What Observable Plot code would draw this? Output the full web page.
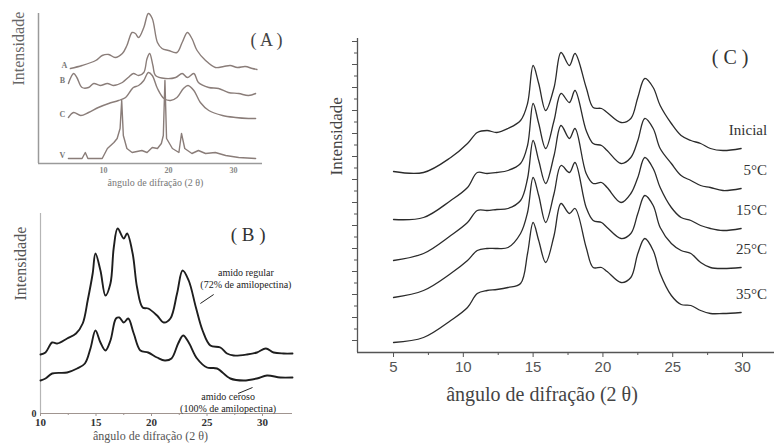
<!DOCTYPE html>
<html><head><meta charset="utf-8">
<script src="https://cdn.jsdelivr.net/npm/d3@7"></script>
<script src="https://cdn.jsdelivr.net/npm/@observablehq/plot@0.6"></script>
<style>
body{margin:0;background:#fff;}
#wrap{position:relative;width:774px;height:447px;overflow:hidden;background:#fff;}
#wrap svg{position:absolute;}
</style></head><body><div id="wrap"></div>
<script>
// ================= DATA =================
// Panel A : four patterns (A, B, C, V) — 2θ and relative intensity
const thetaA_A = [4.9,6.7,8.8,9.8,10.8,11.8,12.9,13.6,14.4,14.9,15.4,16.2,16.9,17.5,18.3,19.0,20.0,21.3,22.1,22.9,23.6,24.4,25.7,27.2,28.5,29.5,30.6,31.8,32.9,33.6];
const intA_A   = [95,98,103,108,109,106,110,118,131,130,126,136,150,145,121,115,113,111,121,131,125,113,103,96,97,98,96,97,95,94];
const thetaA_B = [4.6,5.4,5.9,6.7,7.7,8.5,9.5,10.6,11.5,12.9,13.8,14.6,15.4,16.2,16.7,17.1,17.6,18.0,19.5,21.1,22.1,22.9,23.9,24.6,26.2,27.7,29.2,30.8,32.3,33.4];
const intA_B   = [80,90,86,76,76,80,78,80,78,81,86,90,88,91,105,110,98,88,85,86,90,86,90,81,76,75,71,70,68,70];
const thetaA_C = [4.6,5.4,6.5,7.7,9.2,10.8,12.3,13.4,14.2,14.6,15.4,16.2,16.9,17.5,18.3,19.3,20.3,21.3,22.3,23.0,23.9,24.9,26.2,28.3,30.3,32.3,33.4];
const intA_C   = [46,51,48,51,56,60,63,66,73,76,78,83,91,88,75,65,63,66,75,78,73,61,53,48,46,45,45];
const thetaA_V = [4.6,6.7,7.2,7.6,9.8,10.6,11.6,12.1,12.55,12.8,13.05,13.6,14.4,15.9,16.7,17.5,18.3,18.9,19.2,19.45,19.7,20.6,21.6,22.0,22.5,23.6,24.6,25.7,27.2,28.8,30.8,33.4];
const intA_V   = [5,5,11,5,5,15,21,25,35,63,28,15,11,13,11,16,15,20,28,83,25,15,11,30,15,10,13,10,11,8,6,5];
const namesA   = ["A","B","C","V"];
const ticksA   = [10,20,30];

// Panel B : regular vs waxy starch
const thetaB_reg = [10.0,10.45,11.05,11.5,12.4,13.2,13.8,14.25,14.7,14.95,15.4,15.85,16.3,16.6,16.95,17.5,17.8,18.3,18.7,19.2,19.7,20.5,21.1,21.7,22.3,22.8,23.35,24.0,24.6,25.3,26.2,26.8,27.4,28.6,29.5,30.3,31.0,31.9,32.7];
const intB_reg   = [59,61,71,70,75,80,90,113,140,160,143,118,130,166,185,175,180,160,126,106,105,98,91,95,120,143,133,106,83,68,66,60,58,59,61,65,61,60,60];
const thetaB_cer = [10.0,10.45,11.05,12.4,13.3,14.0,14.5,14.95,15.4,15.85,16.3,16.8,17.1,17.5,17.9,18.4,19.0,19.7,20.5,21.2,21.8,22.4,22.85,23.35,24.1,25.0,25.9,27.1,28.3,29.5,30.4,31.6,32.7];
const intB_cer   = [33,35,40,41,45,50,65,83,71,63,73,95,96,91,95,80,63,61,56,53,55,70,78,71,55,46,45,35,33,35,38,36,36];
const ticksB     = [10,15,20,25,30];
const minorB     = [12.5,17.5,22.5,27.5];
const notesB = [
  {text:"amido regular\n(72% de amilopectina)", t:28.5, v:135, t1:25.6, v1:119, t2:24.4, v2:110},
  {text:"amido ceroso\n(100% de amilopectina)", t:26.9, v:11, t1:27.8, v1:20, t2:29.1, v2:26}
];

// Panel C : storage temperatures
const thetaC = [5.0,7.15,9.1,10.3,11.0,11.7,12.4,13.2,14.1,14.6,15.0,15.4,15.9,16.5,17.0,17.6,18.0,18.8,19.3,19.9,20.3,21.3,22.0,22.5,23.0,23.6,24.1,24.9,25.6,26.3,27.0,27.7,28.6,29.9];
const intC_inicial = [181,180,195,209,220,222,220,224,232,249,287,269,242,265,300,287,299,265,245,244,240,230,234,255,274,265,247,229,217,212,209,204,202,204];
const intC_5  = [133,135,152,165,180,179,180,182,189,207,249,229,204,232,259,250,262,222,209,207,202,189,195,212,234,224,204,189,177,172,167,165,162,164];
const intC_15 = [92,99,117,130,142,142,143,144,152,174,212,192,169,197,227,214,224,179,169,170,165,150,159,175,195,184,165,145,135,132,127,124,122,124];
const intC_25 = [55,62,79,92,102,104,104,105,119,140,175,157,130,159,187,180,190,145,132,130,125,114,119,139,157,147,125,109,102,99,90,85,84,85];
const intC_35 = [10,15,32,45,59,62,63,65,69,99,130,112,90,117,149,139,144,105,85,85,81,70,75,99,114,102,79,57,48,47,42,39,39,40];
const namesC  = ["Inicial","5°C","15°C","25°C","35°C"];
const ticksC  = [5,10,15,20,25,30];
const minorC  = [7.5,12.5,17.5,22.5,27.5];
const yTicksC = [12,35,58,81,104,127,150,173,196,219,242,265,288,311];
const yMinorC = [23.5,46.5,69.5,92.5,115.5,138.5,161.5,184.5,207.5,230.5,253.5,276.5,299.5];

// ================= BUILD =================
const serif = "'Liberation Serif','DejaVu Serif',serif";
const sans = "'Liberation Sans',Arial,sans-serif";
const wrap = document.getElementById("wrap");
function place(svg, left, top){ svg.style.left = left+"px"; svg.style.top = top+"px"; wrap.appendChild(svg); }

// ---- Panel A ----
const rowsA = [];
[[thetaA_A,intA_A],[thetaA_B,intA_B],[thetaA_C,intA_C],[thetaA_V,intA_V]].forEach(([t,v],i)=>{
  t.forEach((x,j)=>rowsA.push({s:namesA[i], t:x, v:v[j]}));
});
const firstA = namesA.map(n => rowsA.find(r=>r.s===n));
const colA = "#8a7d79";
const plotA = Plot.plot({
  width: 300, height: 195,
  marginLeft: 38, marginRight: 38, marginTop: 13, marginBottom: 32,
  x: {domain: [0, 34.46], axis: null}, y: {domain: [0, 150], axis: null},
  style: {fontFamily: serif, background: "transparent", overflow: "visible"},
  marks: [
    Plot.ruleX([0], {stroke: "#9a9a9a", strokeWidth: 1.5}),
    Plot.ruleY([0], {stroke: "#9a9a9a", strokeWidth: 1.5}),
    Plot.line(rowsA.filter(r => r.s !== "V"), {x: "t", y: "v", z: "s", stroke: colA, strokeWidth: 1.4, curve: "catmull-rom"}),
    Plot.line(rowsA.filter(r => r.s === "V"), {x: "t", y: "v", stroke: colA, strokeWidth: 1.4}),
    Plot.text(firstA, {x: "t", y: "v", text: "s", dx: -6, dy: -3, fontSize: 8, fontWeight: "bold", fill: "#777"}),
    Plot.axisX({ticks: ticksA, tickSize: 0, tickPadding: 4, fontSize: 8, fontWeight: "bold", color: "#888", label: null}),
    Plot.text(["Intensidade"], {frameAnchor: "left", rotate: -90, dx: -20, dy: -3, fontSize: 16, fill: "#666"}),
    Plot.text(["ângulo de difração (2 θ)"], {frameAnchor: "bottom", dx: 5, dy: 22, fontSize: 10, fill: "#777"}),
    Plot.text(["( A )"], {frameAnchor: "top-right", textAnchor: "start", dx: -12, dy: 20, fontSize: 18, fill: "#444"})
  ]
});
place(plotA, 0, 0);

// ---- Panel B ----
const rowsB = [];
thetaB_reg.forEach((t,j)=>rowsB.push({s:"reg", t, v:intB_reg[j]}));
thetaB_cer.forEach((t,j)=>rowsB.push({s:"cer", t, v:intB_cer[j]}));
const plotB = Plot.plot({
  width: 320, height: 252,
  marginLeft: 40, marginRight: 28, marginTop: 18, marginBottom: 34,
  x: {domain: [10, 32.7]}, y: {domain: [0, 200]},
  style: {fontFamily: serif, background: "transparent", overflow: "visible"},
  marks: [
    Plot.ruleX([10], {stroke: "#b5b5b5", strokeWidth: 1.2}),
    Plot.ruleY([0], {stroke: "#a09590", strokeWidth: 1.2}),
    Plot.axisX({ticks: ticksB, tickSize: 3, tickPadding: 2, fontSize: 11, fontWeight: "bold", color: "#333", label: null, stroke: "#a09590"}),
    Plot.axisX({ticks: minorB, tickSize: 2, tickFormat: () => "", label: null, stroke: "#a09590"}),
    Plot.axisY({ticks: [0], tickSize: 0, tickPadding: 4, fontSize: 10, fontWeight: "bold", color: "#333", label: null}),
    Plot.line(rowsB, {x: "t", y: "v", z: "s", stroke: "#1e1e1e", strokeWidth: 1.9, curve: "catmull-rom"}),
    Plot.link(notesB, {x1: "t1", y1: "v1", x2: "t2", y2: "v2", stroke: "#222", strokeWidth: 1}),
    Plot.text(notesB, {x: "t", y: "v", text: "text", fontSize: 10, lineHeight: 1.15, fill: "#222"}),
    Plot.text(["Intensidade"], {frameAnchor: "left", rotate: -90, dx: -20, dy: -13, fontSize: 16, fill: "#555"}),
    Plot.text(["ângulo de difração (2 θ)"], {frameAnchor: "bottom", dx: -16, dy: 26, fontSize: 12, fill: "#555"}),
    Plot.text(["( B )"], {frameAnchor: "top-right", dx: -27, dy: 14, fontSize: 19, fill: "#333"})
  ]
});
place(plotB, 0, 195);

// ---- Panel C ----
const seriesC = [intC_inicial, intC_5, intC_15, intC_25, intC_35];
const rowsC = [];
seriesC.forEach((vals,i)=>vals.forEach((v,j)=>rowsC.push({s:namesC[i], t:thetaC[j], v})));
const lastC = namesC.map((n,i)=>({s:n, t:thetaC[thetaC.length-1], v:seriesC[i][seriesC[i].length-1]}));
const plotC = Plot.plot({
  width: 464, height: 447,
  marginLeft: 47, marginRight: 0, marginTop: 38, marginBottom: 95,
  x: {domain: [2.42, 32.29]}, y: {domain: [0, 314]},
  style: {fontFamily: serif, background: "transparent", overflow: "visible"},
  marks: [
    Plot.ruleX([2.42], {stroke: "#555", strokeWidth: 1.3}),
    Plot.ruleY([0], {stroke: "#555", strokeWidth: 1.3}),
    Plot.axisY({ticks: yTicksC, tickSize: 5, tickFormat: () => "", label: null, stroke: "#555"}),
    Plot.axisY({ticks: yMinorC, tickSize: 3, tickFormat: () => "", label: null, stroke: "#555"}),
    Plot.axisX({ticks: ticksC, tickSize: 5, tickPadding: 4, fontSize: 15, fontFamily: sans, color: "#555", label: null}),
    Plot.axisX({ticks: minorC, tickSize: 3, tickFormat: () => "", label: null, stroke: "#555"}),
    Plot.line(rowsC, {x: "t", y: "v", z: "s", stroke: "#2b2b2b", strokeWidth: 1.3, curve: "catmull-rom"}),
    Plot.text(lastC, {x: "t", y: "v", text: "s", textAnchor: "end", dx: 26, dy: -18, fontSize: 15, fill: "#333"}),
    Plot.text(["Intensidade"], {frameAnchor: "left", rotate: -90, dx: -21, dy: -20, fontSize: 17, fill: "#444"}),
    Plot.text(["ângulo de difração (2 θ)"], {frameAnchor: "bottom", dx: -24, dy: 48, fontSize: 20, fill: "#444"}),
    Plot.text(["( C )"], {frameAnchor: "top-right", dx: -26, dy: 11, fontSize: 20, fill: "#333"})
  ]
});
place(plotC, 310, 0);
</script></body></html>
